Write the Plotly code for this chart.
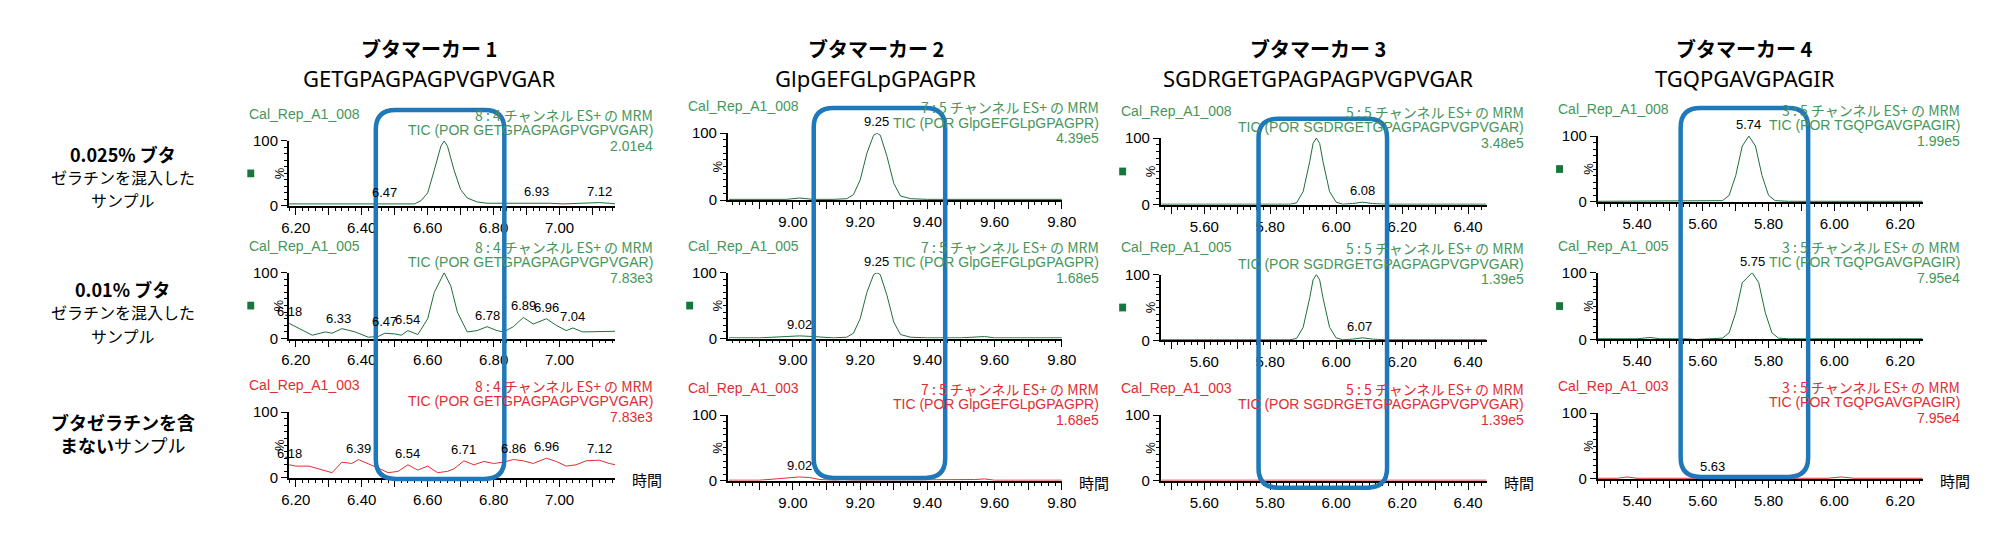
import numpy as np
import plotly.graph_objects as go

W, H = 2000, 538

marker_titles = ["ブタマーカー 1", "ブタマーカー 2", "ブタマーカー 3", "ブタマーカー 4"]
sequences = ["GETGPAGPAGPVGPVGAR", "GlpGEFGLpGPAGPR", "SGDRGETGPAGPAGPVGPVGAR", "TGQPGAVGPAGIR"]
channels = ["8 : 4", "7 : 5", "5 : 5", "3 : 5"]
sample_names = ["Cal_Rep_A1_008", "Cal_Rep_A1_005", "Cal_Rep_A1_003"]
intensities = [["2.01e4", "7.83e3", "7.83e3"],
               ["4.39e5", "1.68e5", "1.68e5"],
               ["3.48e5", "1.39e5", "1.39e5"],
               ["1.99e5", "7.95e4", "7.95e4"]]
row_labels = [("0.025% ブタ", "ゼラチンを混入した", "サンプル"),
              ("0.01% ブタ", "ゼラチンを混入した", "サンプル"),
              ("ブタゼラチンを含", "まない", "サンプル")]
x_ranges = [[6.179, 7.168], [8.806, 9.80], [5.468, 6.457], [5.28, 6.269]]

# --- marker 1 ---
m1_r1_t = [6.18, 6.22, 6.26, 6.30, 6.34, 6.38, 6.42, 6.47, 6.52, 6.56, 6.58, 6.60, 6.62, 6.64, 6.65, 6.66,
           6.68, 6.70, 6.72, 6.75, 6.78, 6.82, 6.86, 6.90, 6.93, 6.97, 7.01, 7.05, 7.09, 7.12, 7.15, 7.17]
m1_r1_y = [3, 3, 2, 3, 3, 2, 2, 3, 2, 3, 8, 20, 55, 92, 100, 92, 55, 25, 12, 6, 4, 4, 4, 4, 5, 4, 3, 4, 4, 5, 4, 3]
m1_r1_lab = [6.47, 6.93, 7.12]
m1_r2_t = [6.18, 6.21, 6.25, 6.29, 6.31, 6.34, 6.38, 6.42, 6.45, 6.47, 6.50, 6.52, 6.54, 6.57, 6.60, 6.62,
           6.65, 6.67, 6.69, 6.72, 6.75, 6.78, 6.81, 6.83, 6.86, 6.89, 6.92, 6.96, 6.99, 7.02, 7.04, 7.07,
           7.10, 7.13, 7.17]
m1_r2_y = [23, 15, 5, 10, 8, 15, 10, 2, 3, 8, 7, 5, 12, 6, 30, 70, 100, 80, 40, 10, 12, 18, 12, 10, 18, 32,
           22, 30, 20, 12, 16, 10, 10, 11, 11]
m1_r2_lab = [6.18, 6.33, 6.47, 6.54, 6.78, 6.89, 6.96, 7.04]
m1_r3_t = [6.18, 6.20, 6.24, 6.28, 6.31, 6.34, 6.37, 6.39, 6.42, 6.45, 6.48, 6.51, 6.54, 6.57, 6.60, 6.63,
           6.66, 6.68, 6.71, 6.74, 6.77, 6.80, 6.83, 6.86, 6.89, 6.92, 6.96, 6.99, 7.02, 7.05, 7.08, 7.12,
           7.15, 7.17]
m1_r3_y = [20, 18, 18, 12, 8, 24, 22, 28, 22, 15, 8, 10, 20, 12, 18, 8, 10, 14, 26, 20, 25, 22, 24, 28, 26,
           22, 30, 25, 18, 20, 26, 27, 22, 20]
m1_r3_lab = [6.18, 6.39, 6.54, 6.71, 6.86, 6.96, 7.12]

# --- marker 2 ---
m2_r1_t = [8.81, 8.90, 8.98, 9.02, 9.06, 9.12, 9.16, 9.18, 9.20, 9.22, 9.24, 9.25, 9.26, 9.28, 9.30, 9.32,
           9.35, 9.40, 9.50, 9.55, 9.57, 9.60, 9.70, 9.80]
m2_r1_y = [1, 1, 1, 3, 1, 1, 2, 8, 30, 70, 97, 100, 97, 65, 25, 6, 2, 1, 1, 1, 2, 1, 1, 1]
m2_r1_lab = [9.25]
m2_r2_t = m2_r1_t
m2_r2_y = [1, 1, 3, 4, 3, 1, 2, 8, 30, 70, 97, 100, 97, 65, 25, 6, 2, 1, 1, 2, 3, 1, 1, 1]
m2_r2_lab = [9.02, 9.25]
m2_r3_t = [8.81, 8.90, 8.95, 8.99, 9.02, 9.05, 9.08, 9.12, 9.15, 9.18, 9.25, 9.30, 9.32, 9.35, 9.45, 9.54,
           9.57, 9.60, 9.70, 9.80]
m2_r3_y = [1, 1, 3, 5, 6, 5, 2, 1, 2, 1, 1, 1, 2, 1, 1, 2, 3, 1, 1, 1]
m2_r3_lab = [9.02]

# --- marker 3 ---
m3_r1_t = [5.47, 5.60, 5.70, 5.80, 5.86, 5.88, 5.90, 5.92, 5.93, 5.94, 5.95, 5.96, 5.98, 6.00, 6.02, 6.05,
           6.08, 6.11, 6.15, 6.25, 6.35, 6.455]
m3_r1_y = [1, 1, 1, 1, 1, 3, 20, 65, 92, 100, 92, 65, 20, 4, 1, 2, 4, 2, 1, 1, 1, 1]
m3_r1_lab = [6.08]
m3_r2_t = m3_r1_t
m3_r2_y = [1, 1, 1, 1, 1, 3, 20, 65, 92, 100, 92, 65, 20, 4, 1, 2, 4, 2, 1, 1, 1, 1]
m3_r2_lab = [6.07]
m3_r3_t = [5.47, 5.60, 5.70, 5.80, 5.90, 6.00, 6.10, 6.20, 6.30, 6.455]
m3_r3_y = [1, 1, 2, 1, 1, 1, 2, 1, 1, 1]
m3_r3_lab = []

# --- marker 4 ---
m4_r1_t = [5.28, 5.40, 5.50, 5.58, 5.62, 5.66, 5.68, 5.70, 5.72, 5.74, 5.76, 5.78, 5.80, 5.82, 5.86, 5.90,
           6.00, 6.10, 6.268]
m4_r1_y = [1, 1, 1, 1, 1, 2, 10, 40, 85, 100, 85, 40, 10, 2, 1, 1, 1, 1, 1]
m4_r1_lab = [5.74]
m4_r2_t = [5.28, 5.40, 5.44, 5.47, 5.55, 5.58, 5.62, 5.66, 5.68, 5.70, 5.72, 5.75, 5.77, 5.79, 5.81, 5.83,
           5.86, 5.90, 6.00, 6.10, 6.17, 6.22, 6.268]
m4_r2_y = [1, 1, 3, 1, 1, 0, 1, 2, 10, 40, 85, 100, 85, 40, 10, 2, 1, 1, 1, 1, 2, 1, 1]
m4_r2_lab = [5.75]
m4_r3_t = [5.28, 5.34, 5.37, 5.40, 5.50, 5.63, 5.80, 5.98, 6.02, 6.06, 6.268]
m4_r3_y = [1, 1, 3, 1, 1, 1, 1, 1, 3, 1, 1]
m4_r3_lab = [5.63]

curves = [[(m1_r1_t, m1_r1_y, m1_r1_lab), (m1_r2_t, m1_r2_y, m1_r2_lab), (m1_r3_t, m1_r3_y, m1_r3_lab)],
          [(m2_r1_t, m2_r1_y, m2_r1_lab), (m2_r2_t, m2_r2_y, m2_r2_lab), (m2_r3_t, m2_r3_y, m2_r3_lab)],
          [(m3_r1_t, m3_r1_y, m3_r1_lab), (m3_r2_t, m3_r2_y, m3_r2_lab), (m3_r3_t, m3_r3_y, m3_r3_lab)],
          [(m4_r1_t, m4_r1_y, m4_r1_lab), (m4_r2_t, m4_r2_y, m4_r2_lab), (m4_r3_t, m4_r3_y, m4_r3_lab)]]

# layout in pixels (top = 100% level, bottom = 0 level)
col_x = [(276, 606), (720, 1058), (1158, 1488), (1600, 1929)]
col_rows = [[(128, 195), (264, 332), (408, 476)],
            [(120, 189), (264, 332), (411, 479)],
            [(125, 194), (266, 334), (411, 479)],
            [(123, 191), (264, 333), (409, 477)]]
title_x = [418, 870, 1317, 1749]
box_x = [(364, 494), (807, 940), (1257, 1387), (1684, 1813)]
box_y = [(96, 477), (94, 476), (105, 486), (94, 475)]
has_square = [[True, True, False], [False, True, False], [True, True, False], [True, True, False]]

GREEN_TXT = "rgb(70,150,90)"
GREEN_LN = "rgb(30,110,60)"
RED = "rgb(225,45,50)"
FONT = "Liberation Sans"
JP = "Noto Sans CJK JP"


def px(x):
    return x / W


def py(y):
    return 1 - y / H


def note(x, y, text, size, color="black", family=FONT, xanchor="center", **kw):
    return dict(xref="paper", yref="paper", x=px(x), y=py(y), text=text, showarrow=False,
                xanchor=xanchor, yanchor="middle", font=dict(family=family, size=size, color=color), **kw)


fig = go.Figure()
ann = []
shapes = []
k = 0
for c in range(4):
    x0, x1 = col_x[c]
    lo, hi = x_ranges[c]
    for r in range(3):
        k += 1
        top, bot = col_rows[c][r]
        t, y, labs = curves[c][r]
        red = r == 2
        txt_col = RED if red else GREEN_TXT
        fig.add_trace(go.Scatter(x=t, y=y, mode="lines", line=dict(color=RED if red else GREEN_LN, width=1),
                                 xaxis=f"x{k}", yaxis=f"y{k}", showlegend=False, hoverinfo="skip"))
        tv = np.round(np.arange(np.ceil(lo * 10) / 10, hi, 0.1), 2)
        tt = [f"{v:.2f}" if round(v * 10) % 2 == 0 else "" for v in tv]
        fig.layout[f"xaxis{k}"] = dict(domain=[px(x0), px(x1)], anchor=f"y{k}", range=[lo, hi],
                                       showline=True, linecolor="black", linewidth=1.5, showgrid=False,
                                       zeroline=False, ticks="outside", ticklen=7, tickcolor="black",
                                       tickvals=tv, ticktext=tt,
                                       tickfont=dict(family=FONT, size=15, color="black"),
                                       minor=dict(dtick=0.02, ticklen=3, ticks="outside", tickcolor="black",
                                                  tick0=0))
        fig.layout[f"yaxis{k}"] = dict(domain=[py(bot), py(top)], anchor=f"x{k}", range=[0, 100],
                                       showline=True, linecolor="black", linewidth=1.5, showgrid=False,
                                       zeroline=False, ticks="outside", ticklen=6, tickcolor="black",
                                       tickvals=[0, 100], tickfont=dict(family=FONT, size=15, color="black"),
                                       minor=dict(dtick=10, ticklen=3, ticks="outside", tickcolor="black"))
        for lab in labs:
            yv = float(np.interp(lab, t, y))
            ann.append(dict(xref=f"x{k}", yref=f"y{k}", x=lab, y=min(yv, 100), text=f"{lab:.2f}",
                            showarrow=False, xanchor="center", yanchor="bottom", yshift=2,
                            font=dict(family=FONT, size=13, color="black")))
        ann.append(note(x0 - 42, top - 28, sample_names[r], 14, txt_col, xanchor="left"))
        right = [f"{channels[c]} チャンネル ES+ の MRM", f"TIC (POR {sequences[c]})", intensities[c][r]]
        for i, s in enumerate(right):
            ann.append(note(x1 + 40, top - 27 + 16 * i, s, 14, txt_col, FONT if i else JP, xanchor="right"))
        ann.append(note(x0 - 10, (top + bot) / 2, "%", 13, textangle=-90))
        if has_square[c][r]:
            mid = (top + bot) / 2
            shapes.append(dict(type="rect", xref="paper", yref="paper", x0=px(x0 - 42), x1=px(x0 - 35),
                               y0=py(mid + 4), y1=py(mid - 4),
                               fillcolor="rgb(20,120,60)", line=dict(width=0)))
        if red:
            ann.append(note(x1 + 15, bot + 2, "時間", 15, family=JP, xanchor="left"))
    ann.append(note(title_x[c], 33, f"<b>{marker_titles[c]}</b>", 20, family=JP))
    ann.append(note(title_x[c], 63, sequences[c], 22, family="Noto Sans"))
    # rounded highlight box
    bx0, bx1 = box_x[c]
    by0, by1 = box_y[c]
    rr = 20
    p = (f"M {px(bx0 + rr)} {py(by0)} L {px(bx1 - rr)} {py(by0)} Q {px(bx1)} {py(by0)} {px(bx1)} {py(by0 + rr)} "
         f"L {px(bx1)} {py(by1 - rr)} Q {px(bx1)} {py(by1)} {px(bx1 - rr)} {py(by1)} "
         f"L {px(bx0 + rr)} {py(by1)} Q {px(bx0)} {py(by1)} {px(bx0)} {py(by1 - rr)} "
         f"L {px(bx0)} {py(by0 + rr)} Q {px(bx0)} {py(by0)} {px(bx0 + rr)} {py(by0)} Z")
    shapes.append(dict(type="path", xref="paper", yref="paper", path=p,
                       line=dict(color="rgb(30,120,185)", width=4.5)))

row_label_y = [141, 281, 418]
for r, (a, b, s) in enumerate(row_labels):
    y0 = row_label_y[r]
    if r < 2:
        lines = [f"<b>{a}</b>", b, s]
    else:
        lines = [f"<b>{a}</b>", f"<b>{b}</b>{s}"]
    for i, line in enumerate(lines):
        ann.append(note(108, y0 + 24 * i, line, 18 if (i == 0 or r == 2) else 16, family=JP))

fig.update_layout(width=W, height=H, margin=dict(l=0, r=0, t=0, b=0), plot_bgcolor="white",
                  paper_bgcolor="white", annotations=ann, shapes=shapes, showlegend=False)
fig.write_html("out.html")
